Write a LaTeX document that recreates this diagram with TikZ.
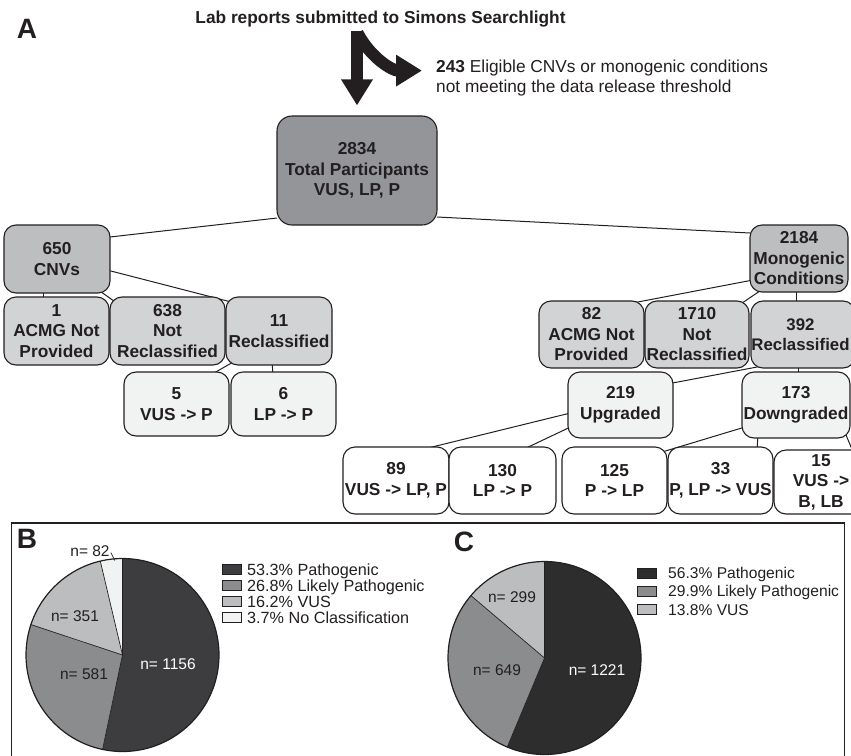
\documentclass[tikz,border=0pt]{standalone}
\usepackage{fontspec}
\setmainfont{Liberation Sans}
\usetikzlibrary{arrows.meta,calc,backgrounds}
\definecolor{ink}{HTML}{231F20}
\definecolor{gTop}{HTML}{939598}
\definecolor{gOne}{HTML}{BCBEC0}
\definecolor{gTwo}{HTML}{D1D3D4}
\definecolor{gThree}{HTML}{F1F2F2}
\definecolor{pDarkB}{HTML}{3D3D3F}
\definecolor{pDarkC}{HTML}{2D2D2E}
\definecolor{pMid}{HTML}{8B8C8E}
\definecolor{pLight}{HTML}{BCBDBF}
\definecolor{pPale}{HTML}{F1F2F2}
\newcommand{\boxfont}{\fontsize{17.3}{20.5}\selectfont\bfseries}
\newcommand{\legfont}{\fontsize{16.2}{19}\selectfont}
\newcommand{\legfontC}{\fontsize{15.6}{19}\selectfont}
\newcommand{\piefont}{\fontsize{15.5}{18}\selectfont}
\begin{document}
\begin{tikzpicture}[x=1pt,y=-1pt,
  box/.style={draw=ink, line width=1.1pt, rounded corners=12pt, inner sep=0pt,
    align=center, font=\boxfont, text=ink},
  sz/.style n args={2}{minimum width=#1pt, minimum height=#2pt},
  conn/.style={draw=ink, line width=1pt},
  bigarrow/.style={draw=ink, line width=12.5pt, -{Triangle[length=26pt,width=30pt]}},
  legsq/.style={draw=ink, line width=1pt, minimum width=19pt, minimum height=10pt, inner sep=0pt},
  legtxt/.style={font=\legfont, text=ink, inner sep=0pt, anchor=base west},
  pielbl/.style={font=\piefont, text=ink, inner sep=0pt},
  panel/.style={font=\fontsize{28}{30}\selectfont\bfseries, text=ink, inner sep=0pt},
  slice/.style={draw=ink, line width=0.7pt}
]
\useasboundingbox (0,0) rectangle (851,755);
\clip (0,0) rectangle (851,755);

% ---------- panel A ----------
\node[panel] (labA) at (27,28.5) {A};
\node[font=\fontsize{17.3}{20}\selectfont\bfseries, text=ink, inner sep=0pt] (title) at (380.5,19) {Lab reports submitted to Simons Searchlight};
\node[font=\fontsize{17.3}{20}\selectfont, text=ink, inner sep=0pt, align=left, anchor=north west] (elig) at (436,59.6)
  {{\bfseries 243} Eligible CNVs or monogenic conditions\\not meeting the data release threshold};

\node[box, fill=gTop, sz={160}{109}, rounded corners=15pt] (top) at (357,170.5) {2834\\Total Participants\\VUS, LP, P};

\node[box, fill=gOne, sz={106}{68}] (cnv) at (57,259) {650\\CNVs};
\node[box, fill=gOne, sz={98}{67}] (mono) at (799,258.5) {2184\\Monogenic\\Conditions};

\node[box, fill=gTwo, sz={105}{68}] (c1) at (56.5,331) {1\\ACMG Not\\Provided};
\node[box, fill=gTwo, sz={115}{68}] (c638) at (167.5,331) {638\\Not\\Reclassified};
\node[box, fill=gTwo, sz={106}{68}] (c11) at (279,331) {11\\Reclassified};
\node[box, fill=gThree, sz={105}{64}] (c5) at (176.5,404) {5\\VUS -> P};
\node[box, fill=gThree, sz={105}{64}] (c6) at (283.5,404) {6\\LP -> P};

\node[box, fill=gTwo, sz={105}{67}] (m82) at (591.5,334.5) {82\\ACMG Not\\Provided};
\node[box, fill=gTwo, sz={104}{67}] (m1710) at (697,334.5) {1710\\Not\\Reclassified};
\node[box, fill=gTwo, sz={104}{67}] (m392) at (803,334.5) {};
\node[font=\fontsize{16.8}{20.5}\selectfont\bfseries, text=ink, align=center, inner sep=0pt] (m392t) at (800.5,334.5) {392\\Reclassified};
\node[box, fill=gThree, sz={105}{66}] (m219) at (620.5,405) {219\\Upgraded};
\node[box, fill=gThree, sz={108}{66}] (m173) at (796,405) {173\\Downgraded};

\node[box, fill=white, sz={106}{67}] (m89) at (396,480.5) {89\\VUS -> LP, P};
\node[box, fill=white, sz={107}{67}] (m130) at (502.5,480.5) {130\\LP -> P};
\node[box, fill=white, sz={105}{67}] (m125) at (614.5,480.5) {125\\P -> LP};
\node[box, fill=white, sz={105}{67}] (m33) at (720.5,480.5) {33\\P, LP -> VUS};
\node[box, fill=white, sz={94}{64}] (m15) at (821,482) {15\\VUS ->\\B, LB};

\coordinate (split) at ($(title.center)+(-23.5,12)$);
\draw[bigarrow] (split) -- ($(top.north)+(0,-10)$);
\draw[bigarrow, line width=12pt] ($(split)+(0.5,2)$) to[out=-62,in=180] ($(elig.north west)+(-14,11)$);

\begin{scope}[on background layer]
  \draw[conn] ($(top.center)+(-80,47.5)$) -- ($(cnv.center)+(53,-22)$);
  \draw[conn] ($(top.center)+(80,46.5)$) -- ($(mono.center)+(-49,-25.5)$);
  \draw[conn] ($(cnv.center)+(-14,30)$) -- ($(c1.center)+(-13.5,-30)$);
  \draw[conn] ($(cnv.center)+(40,30)$) -- ($(c638.center)+(-48,-26)$);
  \draw[conn] ($(cnv.center)+(50,11)$) -- ($(c11.center)+(-44,-28)$);
  \draw[conn] ($(c11.center)+(-44,30)$) -- ($(c5.center)+(34,-29)$);
  \draw[conn] ($(c11.center)+(-7,30)$) -- ($(c6.center)+(-10.5,-29)$);
  \draw[conn] ($(mono.center)+(-46,21.5)$) -- ($(m82.center)+(38.5,-31)$);
  \draw[conn] ($(mono.center)+(-37,31)$) -- ($(m1710.center)+(43,-30)$);
  \draw[conn] ($(mono.center)+(-3,30)$) -- ($(m392.center)+(-7,-30)$);
  \draw[conn] ($(m392.center)+(-38,31)$) -- ($(m219.center)+(52,-22)$);
  \draw[conn] ($(m392.center)+(-5,30)$) -- ($(m173.center)+(2,-30)$);
  \draw[conn] ($(m219.center)+(-50,8)$) -- ($(m89.center)+(26,-31)$);
  \draw[conn] ($(m219.center)+(-50,22)$) -- ($(m130.center)+(20.5,-31)$);
  \draw[conn] ($(m173.center)+(-51,22)$) -- ($(m125.center)+(46,-28)$);
  \draw[conn] ($(m173.center)+(-38,30)$) -- ($(m33.center)+(36.5,-31)$);
  \draw[conn] ($(m173.center)+(50,30)$) -- ($(m15.center)+(33,-28)$);
\end{scope}

% ---------- frame for B and C ----------
\draw[ink, line width=1.2pt] (11.5,760) -- (11.5,523) -- (844.5,523) -- (844.5,760);

% ---------- panel B ----------
\node[panel] (labB) at (27,539) {B};
\coordinate (pieB) at (122.5,655);
\fill[pDarkB] (pieB) -- ++(-90:96.5) arc[start angle=-90, end angle=101.9, radius=96.5] -- cycle;
\fill[pMid] (pieB) -- ++(101.9:96.5) arc[start angle=101.9, end angle=198.4, radius=96.5] -- cycle;
\fill[pLight] (pieB) -- ++(198.4:96.5) arc[start angle=198.4, end angle=256.7, radius=96.5] -- cycle;
\fill[pPale] (pieB) -- ++(256.7:96.5) arc[start angle=256.7, end angle=270, radius=96.5] -- cycle;
\draw[slice] (pieB) -- ++(-90:96.5);
\draw[slice] (pieB) -- ++(101.9:96.5);
\draw[slice] (pieB) -- ++(198.4:96.5);
\draw[slice] (pieB) -- ++(256.7:96.5);
\draw[ink, line width=1.2pt] (pieB) circle[radius=96.5];
\node[pielbl, text=white] (nB1) at ($(pieB)+(45.5,9)$) {n= 1156};
\node[pielbl] (nB2) at ($(pieB)+(-38.5,19)$) {n= 581};
\node[pielbl] (nB3) at ($(pieB)+(-47.5,-39)$) {n= 351};
\node[pielbl] (nB4) at (90,551.5) {n= 82};
\draw[ink, line width=0.6pt] ($(nB4.east)+(1,1)$) -- ++(4,8);

\node[legsq, fill=pDarkB] (lB1) at (232,569.3) {};
\node[legsq, fill=pMid] (lB2) at (232,585.7) {};
\node[legsq, fill=pLight] (lB3) at (232,601.7) {};
\node[legsq, fill=pPale] (lB4) at (232,617.3) {};
\node[legtxt] (tB1) at (247,575) {53.3\% Pathogenic};
\node[legtxt] (tB2) at (247,591.4) {26.8\% Likely Pathogenic};
\node[legtxt] (tB3) at (247,607.4) {16.2\% VUS};
\node[legtxt] (tB4) at (247,623) {3.7\% No Classification};

% ---------- panel C ----------
\node[panel] (labC) at (464,542) {C};
\coordinate (pieC) at (544.5,658);
\fill[pDarkC] (pieC) -- ++(-90:96.5) arc[start angle=-90, end angle=112.7, radius=96.5] -- cycle;
\fill[pMid] (pieC) -- ++(112.7:96.5) arc[start angle=112.7, end angle=220.3, radius=96.5] -- cycle;
\fill[pLight] (pieC) -- ++(220.3:96.5) arc[start angle=220.3, end angle=270, radius=96.5] -- cycle;
\draw[slice] (pieC) -- ++(-90:96.5);
\draw[slice] (pieC) -- ++(112.7:96.5);
\draw[slice] (pieC) -- ++(220.3:96.5);
\draw[ink, line width=1.2pt] (pieC) circle[radius=96.5];
\node[pielbl, text=white] (nC1) at ($(pieC)+(52.5,12)$) {n= 1221};
\node[pielbl] (nC2) at ($(pieC)+(-47.5,12)$) {n= 649};
\node[pielbl] (nC3) at ($(pieC)+(-32.5,-61)$) {n= 299};

\node[legsq, fill=pDarkC] (lC1) at (647,573) {};
\node[legsq, fill=pMid] (lC2) at (647,591.3) {};
\node[legsq, fill=pLight] (lC3) at (647,609.7) {};
\node[legtxt, font=\legfontC] (tC1) at (668,578.6) {56.3\% Pathogenic};
\node[legtxt, font=\legfontC] (tC2) at (668,596.9) {29.9\% Likely Pathogenic};
\node[legtxt, font=\legfontC] (tC3) at (668,615.3) {13.8\% VUS};
\end{tikzpicture}
\end{document}
